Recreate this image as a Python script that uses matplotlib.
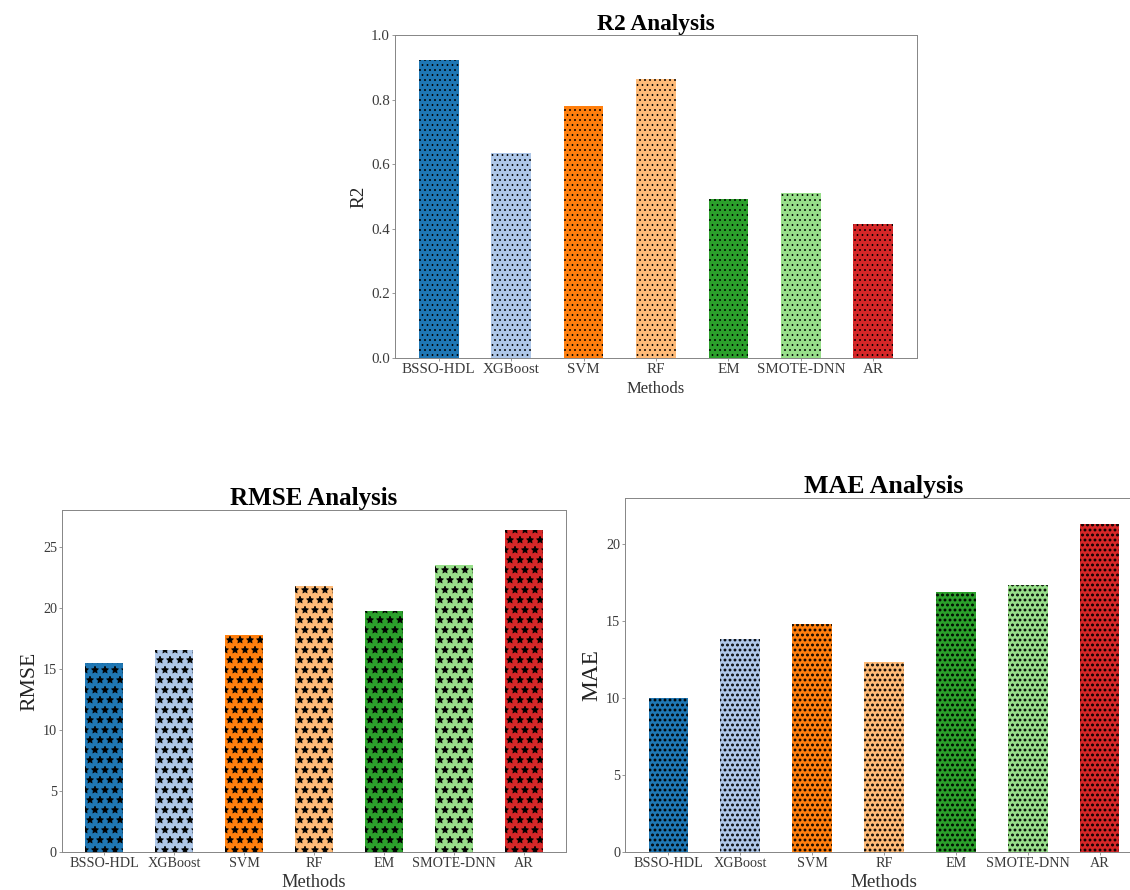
import matplotlib
matplotlib.use("Agg")
import matplotlib.pyplot as plt

methods = ["BSSO-HDL", "XGBoost", "SVM", "RF", "EM", "SMOTE-DNN", "AR"]
r2_values = [0.923, 0.636, 0.780, 0.864, 0.492, 0.510, 0.415]
rmse_values = [15.5, 16.5, 17.8, 21.8, 19.7, 23.5, 26.4]
mae_values = [10.0, 13.8, 14.8, 12.3, 16.85, 17.3, 21.3]
colors = ["#1f77b4", "#aec7e8", "#ff7f0e", "#ffbb78", "#2ca02c", "#98df8a", "#d62728"]

plt.rcParams["font.family"] = ["Liberation Serif", "DejaVu Serif"]
plt.rcParams["hatch.linewidth"] = 1.0

W, H = 1130, 890
DPI = 60
fig = plt.figure(figsize=(W / DPI, H / DPI), dpi=DPI)


def make_axes(left, right, top, bottom):
    return fig.add_axes([left / W, 1 - bottom / H, (right - left) / W, (bottom - top) / H])


def style(ax, title, ylabel, tick_fs, lab_fs, ylab_fs, title_fs, xlpad):
    ax.set_title(title, fontsize=title_fs, fontweight="bold", pad=4)
    ax.set_xlabel("Methods", fontsize=lab_fs, color="#333333", labelpad=xlpad)
    ax.set_ylabel(ylabel, fontsize=ylab_fs, color="#222222")
    ax.tick_params(axis="both", labelsize=tick_fs, colors="#888888", labelcolor="#3a3a3a",
                   length=4, width=1, pad=2)
    for s in ax.spines.values():
        s.set_color("#888888")
        s.set_linewidth(1.2)


# R2
ax1 = make_axes(395, 917, 35, 358)
ax1.bar(methods, r2_values, width=0.55, color=colors, edgecolor="black", linewidth=0, hatch="..")
ax1.set_ylim(0, 1.0)
ax1.set_yticks([0.0, 0.2, 0.4, 0.6, 0.8, 1.0])
ax1.set_yticklabels(["0.0", "0.2", "0.4", "0.6", "0.8", "1.0"])
style(ax1, "R2 Analysis", "R2", 18, 20, 23, 28, 6)

# RMSE
ax2 = make_axes(62, 566, 510, 852)
ax2.bar(methods, rmse_values, width=0.55, color=colors, edgecolor="black", linewidth=0, hatch="*")
ax2.set_ylim(0, 28.0)
ax2.set_yticks([0, 5, 10, 15, 20, 25])
style(ax2, "RMSE Analysis", "RMSE", 17, 22, 26, 30, 5)

# MAE
ax3 = make_axes(625, 1143, 498, 852)
with plt.rc_context({"hatch.linewidth": 2.2}):
    ax3.bar(methods, mae_values, width=0.55, color=colors, edgecolor="black", linewidth=0, hatch="..")
ax3.set_ylim(0, 22.97)
ax3.set_yticks([0, 5, 10, 15, 20])
style(ax3, "MAE Analysis", "MAE", 17, 23, 28, 31, 5)

fig.savefig("out.png", dpi=DPI)
